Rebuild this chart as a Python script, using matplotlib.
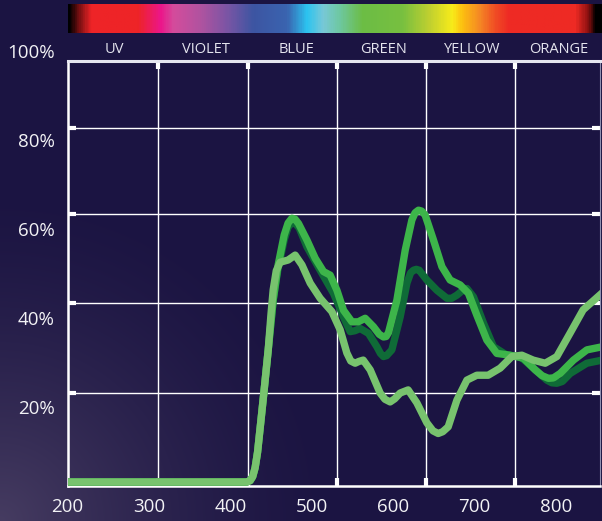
import numpy as np
import matplotlib
matplotlib.use("Agg")
import matplotlib.pyplot as plt
import matplotlib.transforms as mtransforms
from matplotlib.colors import LinearSegmentedColormap

# ---------------- data ----------------
x_labels = [200, 300, 400, 500, 600, 700, 800]
y_labels = [20, 40, 60, 80, 100]
band_names = ["UV", "VIOLET", "BLUE", "GREEN", "YELLOW", "ORANGE"]
band_x = [258, 370, 481, 588, 697, 803]

# light green series
c_x = [200, 420.0, 424.4, 427.5, 430.5, 433.5, 437.0, 441.6, 446.6, 450.0, 452.7, 456.5,
       461.3, 471.1, 479.7, 488.0, 498.2, 510.4, 524.8, 535.0, 543.2, 548.0, 553.4,
       558.0, 563.3, 571.9, 584.1, 590.0, 596.4, 602.0, 608.7, 618.5, 629.2, 641.5,
       649.0, 655.4, 661.0, 667.7, 678.4, 690.7, 702.9, 716.8, 731.6, 745.9, 758.2,
       772.1, 786.9, 801.2, 817.6, 833.5, 856.9]
c_y = [3.3, 3.3, 3.6, 4.5, 6.5, 10.0, 16.0, 24.0, 33.0, 41.0, 46.5, 50.8,
       52.7, 53.2, 54.3, 52.1, 48.0, 44.6, 41.6, 37.5, 32.3, 30.5, 30.0,
       30.4, 30.7, 28.5, 23.3, 21.9, 21.3, 22.0, 23.3, 24.0, 21.1, 16.6,
       14.8, 14.2, 14.6, 15.7, 21.7, 26.2, 27.3, 27.3, 28.9, 31.5, 31.8,
       30.7, 30.0, 31.5, 36.8, 42.0, 45.8]

# bright green series
a_x = [200, 420.0, 424.4, 427.5, 430.5, 433.5, 437.0, 441.6, 446.6, 452.7, 458.8, 466.2,
       471.0, 475.7, 479.5, 483.8, 494.1, 504.3, 514.5, 522.7, 531.0, 539.1, 549.4,
       557.1, 565.7, 575.9, 583.0, 588.2, 591.5, 594.4, 604.7, 614.9, 623.1, 627.0,
       631.2, 635.0, 639.4, 649.6, 660.0, 670.1, 682.4, 692.6, 702.9, 715.2, 727.5,
       743.9, 760.2, 774.6, 783.0, 790.9, 797.0, 805.3, 821.6, 838.1, 856.9]
a_y = [3.3, 3.3, 3.6, 4.5, 6.5, 10.0, 16.0, 24.0, 33.0, 44.2, 52.1, 58.8,
       61.5, 62.6, 62.4, 61.4, 57.7, 53.6, 50.6, 49.8, 46.4, 41.9, 39.3,
       39.3, 40.1, 38.2, 36.5, 35.9, 36.0, 36.9, 44.2, 55.4, 62.2, 63.8,
       64.4, 64.2, 63.3, 57.7, 51.7, 48.7, 47.6, 45.7, 40.8, 35.2, 32.2,
       31.8, 31.1, 28.5, 27.2, 26.6, 26.7, 27.7, 30.7, 33.0, 33.7]

# dark green series
b_x = [200, 420.0, 424.4, 427.5, 430.5, 433.5, 437.0, 441.6, 446.6, 452.7, 458.8, 466.2,
       471.0, 476.1, 480.0, 484.7, 494.1, 510.4, 526.8, 539.1, 547.3, 553.0, 559.6,
       569.8, 580.1, 584.5, 588.2, 592.0, 598.5, 608.7, 617.0, 621.5, 625.1, 628.5,
       632.1, 641.5, 653.8, 666.1, 672.0, 678.4, 685.0, 690.7, 698.8, 711.1, 723.4,
       739.8, 756.1, 772.5, 788.9, 795.0, 801.2, 808.0, 817.6, 838.1, 856.9]
b_y = [3.3, 3.3, 3.6, 4.5, 6.5, 10.0, 16.0, 24.0, 33.0, 44.2, 51.4, 57.7,
       60.6, 61.7, 61.4, 60.4, 56.2, 50.9, 45.7, 40.4, 37.1, 37.3, 37.8,
       36.7, 33.7, 32.2, 31.5, 31.7, 33.0, 40.4, 48.0, 50.3, 50.9, 51.1,
       50.9, 48.7, 46.4, 44.6, 44.6, 45.3, 46.3, 46.8, 44.9, 39.0, 33.7,
       31.8, 31.5, 28.9, 26.2, 25.6, 25.5, 25.9, 27.7, 30.0, 30.7]

# ---------------- layout / style ----------------
W, H = 602, 521
NAVY = np.array([27, 20, 66]) / 255
CORNER = np.array([70, 60, 97]) / 255
FONT = "Open Sans"
plt.rcParams["font.family"] = [FONT, "DejaVu Sans"]

grid_x = [310.6, 421.7, 531.7, 640.4, 749.8]
grid_y = [23.3, 43.5, 63.5, 82.8]

spec_stops = [(68, "#000000"), (78, "#7a1012"), (90, "#ee2427"), (137, "#ee2427"),
              (160, "#ec168a"), (173, "#d44c9c"), (200, "#b053a0"), (227, "#7a55a5"),
              (253, "#3d55a2"), (287, "#3a64b0"), (307, "#2cc4f0"), (323, "#78c8d8"),
              (340, "#6ec8a0"), (363, "#6cbd45"), (403, "#78c040"), (430, "#c0d030"),
              (453, "#f8ec1a"), (463, "#fdc010"), (480, "#f58a24"), (497, "#f04a24"),
              (510, "#ee2a24"), (577, "#ee2a24"), (590, "#8a1010"), (597, "#000000"),
              (602, "#000000")]

fig = plt.figure(figsize=(W / 100, H / 100), dpi=100)

# background with soft light corner
bg = fig.add_axes([0, 0, 1, 1])
bg.axis("off")
yy, xx = np.mgrid[0:H, 0:W]
d = np.hypot(xx, H - yy)
t = np.clip(1 - d / 340.0, 0, 1) ** 1.5
img = NAVY + (CORNER - NAVY) * t[..., None]
bg.imshow(img, extent=(0, W, H, 0), aspect="auto", interpolation="bilinear")
bg.set_xlim(0, W)
bg.set_ylim(H, 0)

# spectrum bar
sp = fig.add_axes([68 / W, 1 - 32.7 / H, (602 - 68) / W, 28.7 / H])
sp.axis("off")
cmap = LinearSegmentedColormap.from_list(
    "spec", [((p - 68) / 534.0, c) for p, c in spec_stops])
sp.imshow(np.linspace(0, 1, 600)[None, :], cmap=cmap, aspect="auto",
          extent=(0, 1, 0, 1), interpolation="bilinear")

# main axes
ax = fig.add_axes([67.5 / W, (H - 486) / H, 532 / W, (486 - 60.7) / H])
ax.patch.set_alpha(0)
ax.set_xlim(200, 853.6)
ax.set_ylim(2.4, 98)
ax.set_axisbelow(True)

ax.plot(b_x, b_y, color="#0f6b37", lw=5.3, solid_joinstyle="round", zorder=3)
ax.plot(a_x, a_y, color="#3db54a", lw=5.3, solid_joinstyle="round", zorder=4)
ax.plot(c_x, c_y, color="#78c36e", lw=5.3, solid_joinstyle="round", zorder=5)

ax.set_xticks(grid_x)
ax.set_yticks(grid_y)
ax.grid(True, color="white", lw=1.0)
ax.tick_params(which="major", direction="in", length=5.5, width=3, color="white",
               top=True, right=True, labelbottom=False, labelleft=False)

for side in ("left", "bottom"):
    ax.spines[side].set_color("white")
    ax.spines[side].set_linewidth(1.8)
ax.spines["top"].set_color("#e6e6f0")
ax.spines["top"].set_linewidth(2.2)
ax.spines["right"].set_color("#9090b0")
ax.spines["right"].set_linewidth(0.8)

xt = mtransforms.offset_copy(ax.get_xaxis_transform(), fig=fig, x=0, y=-25.7, units="dots")
for v in x_labels:
    ax.text(v, 0, str(v), transform=xt, ha="center", va="baseline",
            fontsize=13.5, color="#f2f2f5", clip_on=False)

yt = mtransforms.offset_copy(ax.get_yaxis_transform(), fig=fig, x=-13, y=-6, units="dots")
for v in y_labels:
    ax.text(0, v, f"{v}%", transform=yt, ha="right", va="baseline",
            fontsize=13.5, color="#f2f2f5", clip_on=False)

ct = mtransforms.offset_copy(ax.get_xaxis_transform(), fig=fig, x=0, y=7.4, units="dots")
for name, v in zip(band_names, band_x):
    ax.text(v, 1, name, transform=ct, ha="center", va="baseline",
            fontsize=10.5, color="#e4e4ee", clip_on=False)

fig.savefig("out.png", dpi=100)
